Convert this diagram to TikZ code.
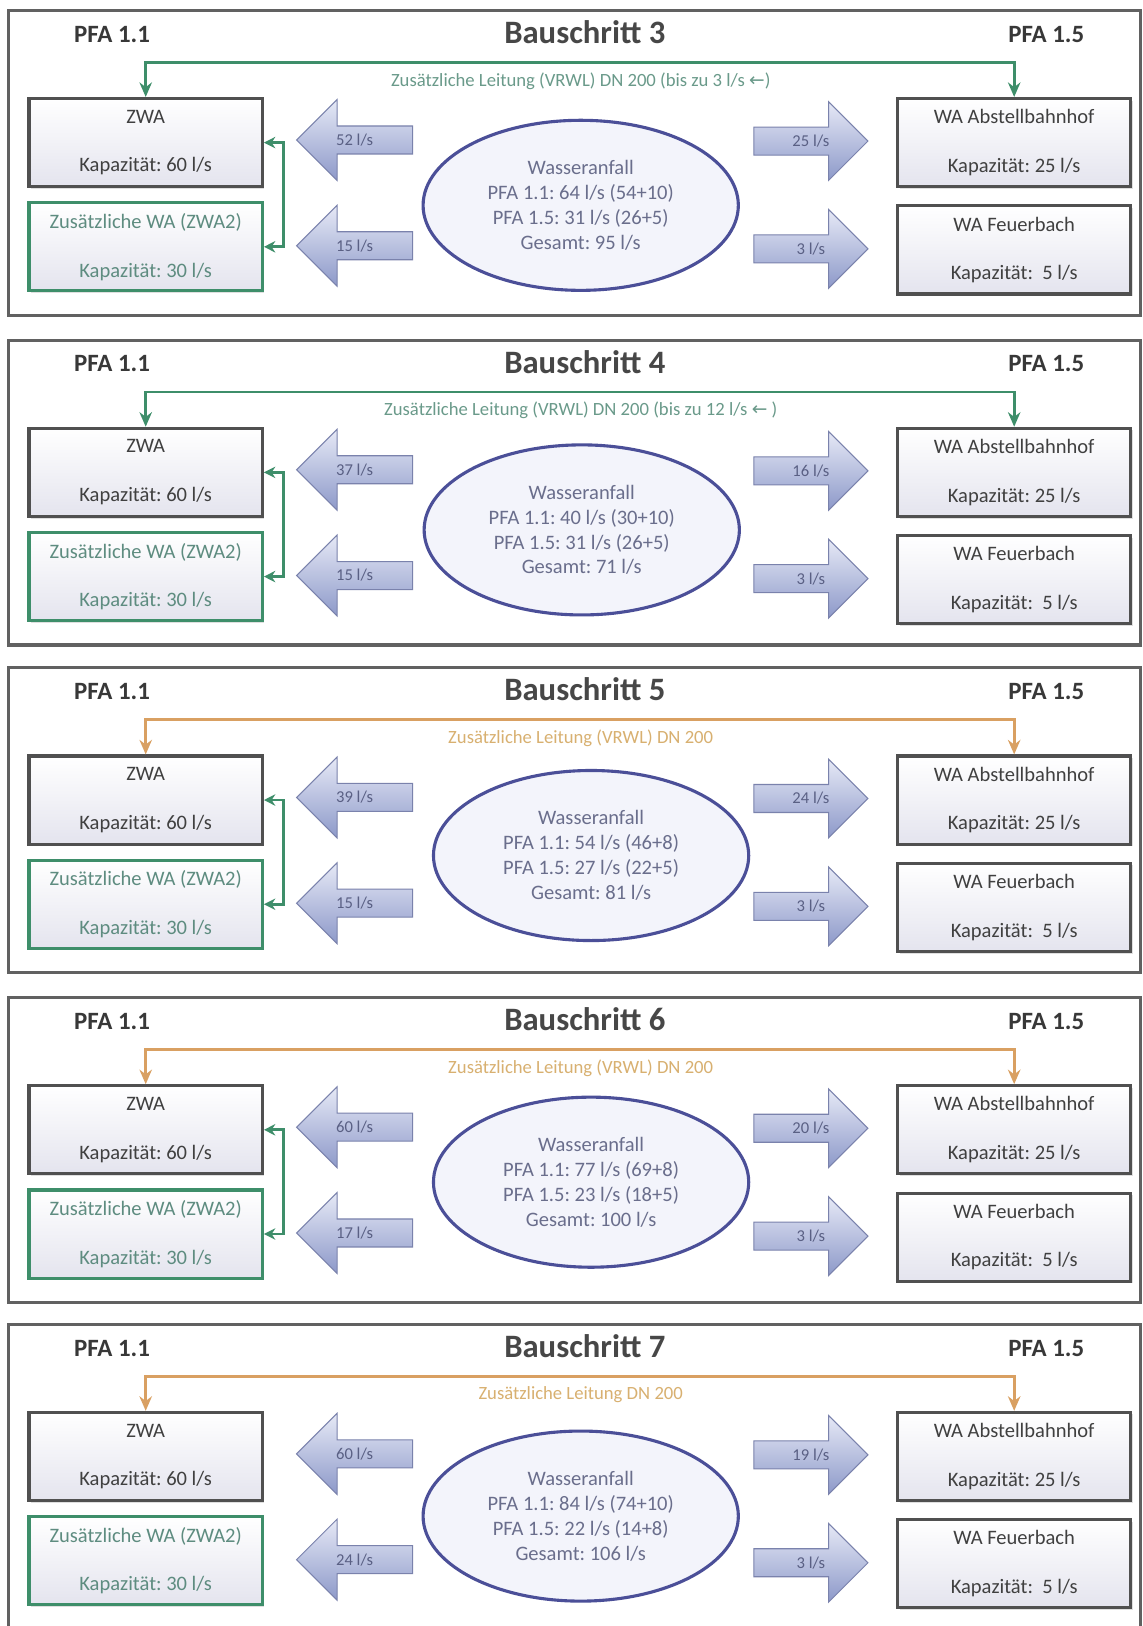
\documentclass[tikz,border=0pt]{standalone}
\usepackage{fontspec}
\setmainfont{Carlito}
\newfontfamily\arrowfont{DejaVu Sans}
\frenchspacing
\usetikzlibrary{arrows.meta,shapes.geometric,shadows}
\definecolor{gline}{HTML}{3E8E6A}
\definecolor{gtext}{HTML}{6A9A8A}
\definecolor{oline}{HTML}{D9A062}
\definecolor{otext}{HTML}{D8B070}
\definecolor{boxdraw}{HTML}{505050}
\definecolor{boxbot}{HTML}{E4E4EE}
\definecolor{txt}{HTML}{404040}
\definecolor{zwbtext}{HTML}{5E8C80}
\definecolor{ellc}{HTML}{4B4F98}
\definecolor{ellfill}{HTML}{F3F4FB}
\definecolor{elltext}{HTML}{6A6E8C}
\definecolor{arrtop}{HTML}{E6E9F6}
\definecolor{arrbot}{HTML}{8D99C9}
\definecolor{arrdraw}{HTML}{7A82AC}
\definecolor{alabelc}{HTML}{5A6084}
\tikzset{
  panelframe/.style={draw=boxdraw!90, line width=3pt, fill=white},
  wabox/.style={draw=boxdraw, line width=3pt, top color=white, bottom color=boxbot,
    minimum width=225pt, minimum height=85pt, align=center, inner sep=0pt,
    font=\fontsize{19.8}{23}\selectfont, text=txt,
    drop shadow={opacity=0.25, shadow xshift=2pt, shadow yshift=-2pt}},
  zwbbox/.style={wabox, draw=gline, text=zwbtext},
  titletext/.style={font=\bfseries\fontsize{31.5}{36}\selectfont, text=black!72},
  pfatext/.style={font=\bfseries\fontsize{24}{28}\selectfont, text=black!78},
  linelabel/.style={font=\fontsize{18}{21}\selectfont},
  pipe/.style={line width=2.8pt, arrows={Stealth[length=14pt,width=12pt]-Stealth[length=14pt,width=12pt]}},
  bracket/.style={line width=2.8pt, draw=gline, arrows={Stealth[length=11pt,width=11pt]-Stealth[length=11pt,width=11pt]}},
  barrow/.style={draw=arrdraw, line width=1pt, top color=arrtop, bottom color=arrbot},
  alabel/.style={font=\fontsize{16}{18}\selectfont, text=alabelc, inner sep=0pt},
  water/.style={ellipse, draw=ellc, line width=3pt, fill=ellfill, minimum width=304pt,
    minimum height=164pt, inner sep=0pt, align=center,
    font=\fontsize{19.8}{24}\selectfont, text=elltext}
}
% left block arrow: name, tip x, centre y, label
\newcommand\larr[4]{%
  \path[barrow] (#2,#3) -- ({#2+39},{#3-39}) -- ({#2+39},{#3-13.5}) -- ({#2+112},{#3-13.5})
    -- ({#2+112},{#3+13.5}) -- ({#2+39},{#3+13.5}) -- ({#2+39},{#3+39}) -- cycle;
  \node[alabel] (#1) at ({#2+56},#3) {#4};}
% right block arrow: name, tail x, centre y, label
\newcommand\rarr[4]{%
  \path[barrow] (#2,{#3-13.5}) -- ({#2+72},{#3-13.5}) -- ({#2+72},{#3-38}) -- ({#2+110},#3)
    -- ({#2+72},{#3+38}) -- ({#2+72},{#3+13.5}) -- (#2,{#3+13.5}) -- cycle;
  \node[alabel] (#1) at ({#2+55},#3) {#4};}
% panel: id, y offset, step number, colour prefix (g/o), pipe label, bracket (1/0)
\newcommand\bpanel[6]{%
  \begin{scope}[shift={(0,#2)}]
    \draw[panelframe] (8,10) rectangle (1100,304);
    \node[pfatext] (pl#1) at (108,33) {PFA 1.1};
    \node[titletext] (ti#1) at (564,31) {Bauschritt #3};
    \node[pfatext] (pr#1) at (1009,33) {PFA 1.5};
    \node[wabox] (zwa#1) at (140.5,137.5) {ZWA\\[24pt]Kapazität: 60 l/s};
    \node[zwbbox] (zwb#1) at (140.5,238) {Zusätzliche WA (ZWA2)\\[24pt]Kapazität: 30 l/s};
    \node[wabox] (wab#1) at (978,137.5) {WA Abstellbahnhof\\[24pt]Kapazität: 25 l/s};
    \node[wabox] (waf#1) at (978,241) {WA Feuerbach\\[24pt]Kapazität:\ \ 5 l/s};
    \coordinate (pt#1) at (560,60);
    \draw[pipe, draw=#4line] (zwa#1.north) -- (zwa#1.north |- pt#1) -| (wab#1.north);
    \node[linelabel, text=#4text] (ll#1) at (560,78) {#5};
    \ifnum#6=1 \draw[bracket] (zwa#1.east) -- ++(19,0) |- (zwb#1.east);\fi
  \end{scope}}
% flows: id, y offset, ellipse centre, ellipse text, four arrow labels
\newcommand\bflows[8]{%
  \begin{scope}[shift={(0,#2)}]
    \node[water] (wa#1) at #3 {#4};
    \larr{lu#1}{286}{135}{#5}
    \larr{ll#1}{286}{237}{#6}
    \rarr{ru#1}{727}{136}{#7}
    \rarr{rl#1}{727}{240}{#8}
  \end{scope}}
\begin{document}
\begin{tikzpicture}[x=1pt,y=-1pt]
\useasboundingbox (0,0) rectangle (1102,1568);
\clip (0,0) rectangle (1102,1568);
\fill[white] (0,0) rectangle (1102,1568);

\bpanel{a}{0}{3}{g}{Zusätzliche Leitung (VRWL) DN 200 (bis zu 3 l/s {\arrowfont ←})}{1}
\bflows{a}{0}{(560,198)}{Wasseranfall\\PFA 1.1: 64 l/s (54+10)\\PFA 1.5: 31 l/s (26+5)\\Gesamt: 95 l/s}{52 l/s}{15 l/s}{25 l/s}{3 l/s}

\bpanel{b}{318}{4}{g}{Zusätzliche Leitung (VRWL) DN 200 (bis zu 12 l/s {\arrowfont ←} )}{1}
\bflows{b}{318}{(561,193)}{Wasseranfall\\PFA 1.1: 40 l/s (30+10)\\PFA 1.5: 31 l/s (26+5)\\Gesamt: 71 l/s}{37 l/s}{15 l/s}{16 l/s}{3 l/s}

\bpanel{c}{634}{5}{o}{Zusätzliche Leitung (VRWL) DN 200}{1}
\bflows{c}{634}{(570,191)}{Wasseranfall\\PFA 1.1: 54 l/s (46+8)\\PFA 1.5: 27 l/s (22+5)\\Gesamt: 81 l/s}{39 l/s}{15 l/s}{24 l/s}{3 l/s}

\bpanel{d}{952}{6}{o}{Zusätzliche Leitung (VRWL) DN 200}{1}
\bflows{d}{952}{(570,188)}{Wasseranfall\\PFA 1.1: 77 l/s (69+8)\\PFA 1.5: 23 l/s (18+5)\\Gesamt: 100 l/s}{60 l/s}{17 l/s}{20 l/s}{3 l/s}

\bpanel{e}{1267}{7}{o}{Zusätzliche Leitung DN 200}{0}
\bflows{e}{1267}{(560,195)}{Wasseranfall\\PFA 1.1: 84 l/s (74+10)\\PFA 1.5: 22 l/s (14+8)\\Gesamt: 106 l/s}{60 l/s}{24 l/s}{19 l/s}{3 l/s}
\end{tikzpicture}
\end{document}
